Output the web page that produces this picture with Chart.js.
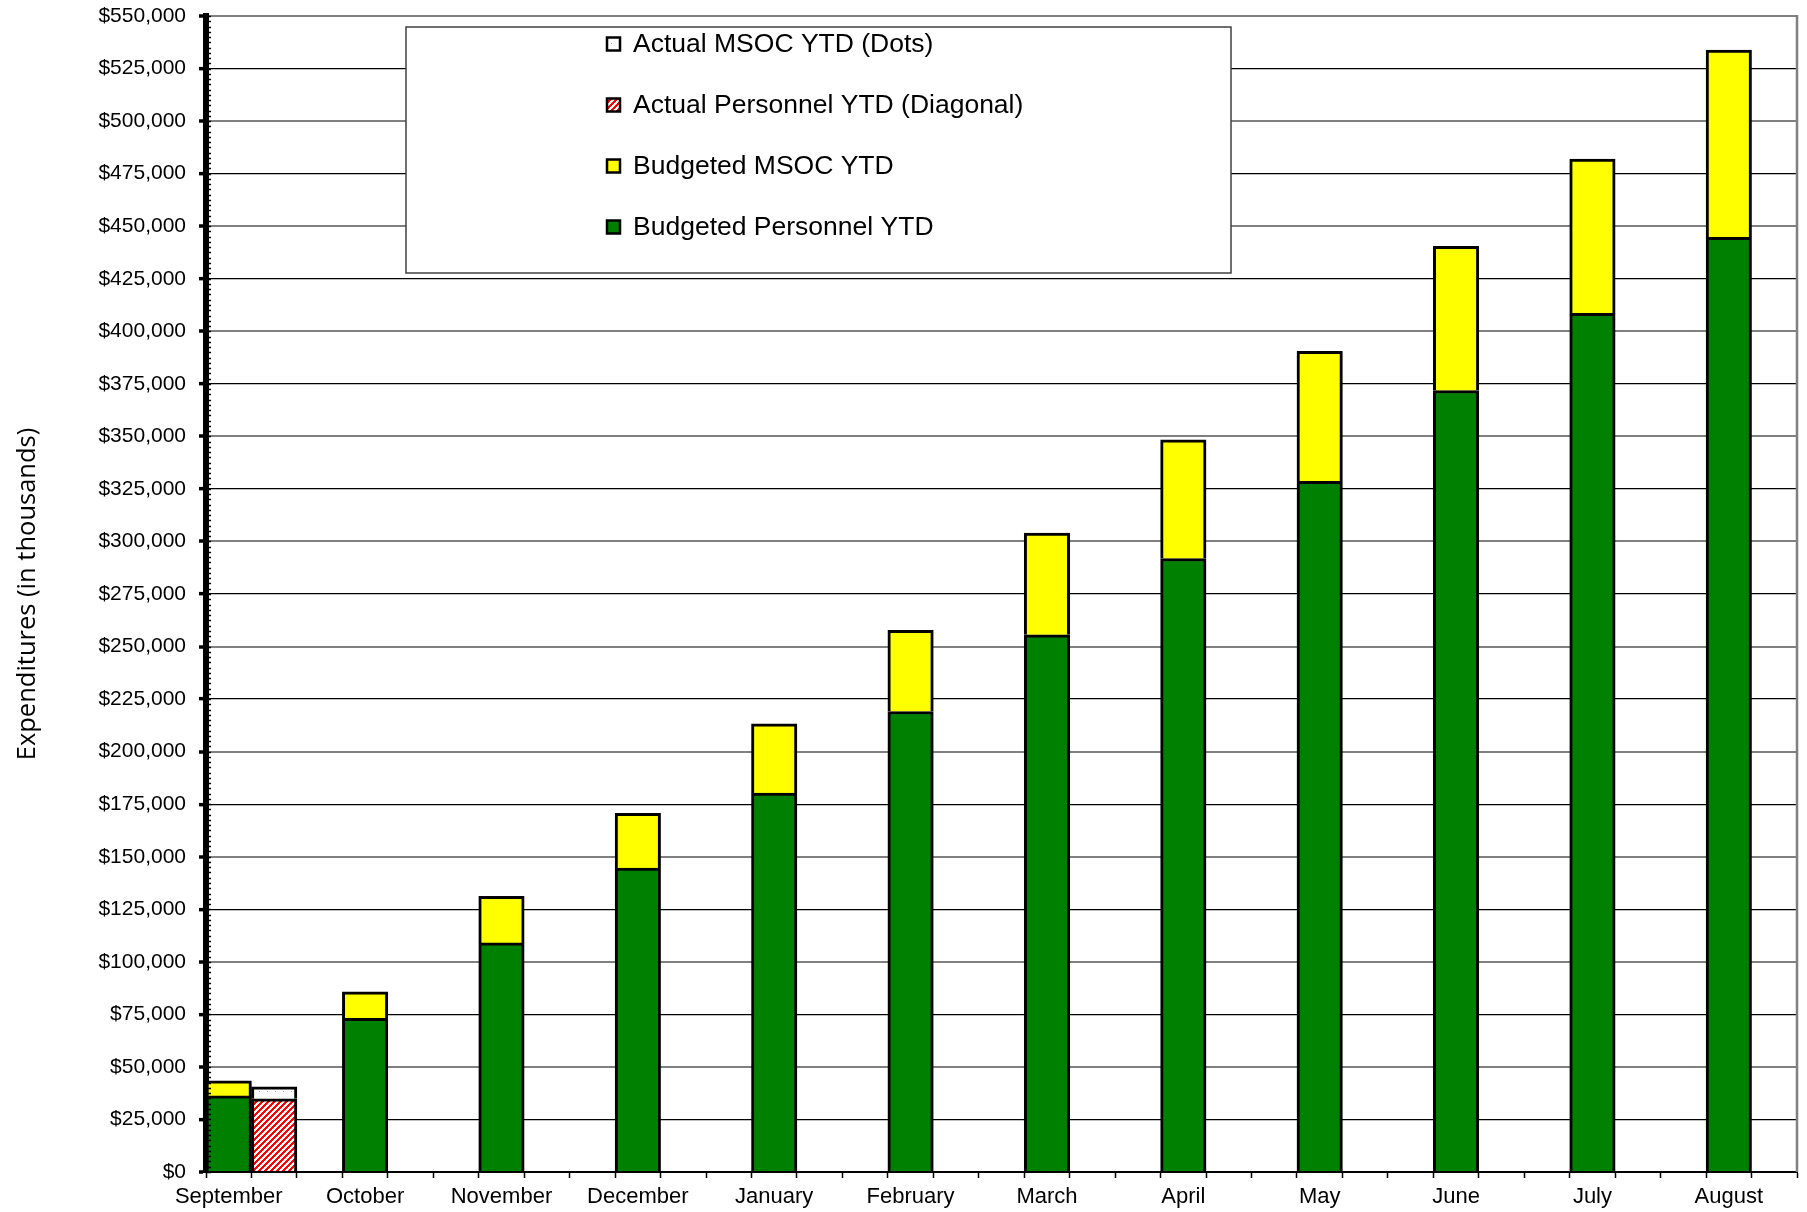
<!DOCTYPE html>
<html>
<head>
<meta charset="utf-8">
<title>Expenditures YTD</title>
<script src="https://cdn.jsdelivr.net/npm/chart.js@4/dist/chart.umd.min.js"></script>
<style>
  html, body { margin: 0; padding: 0; background: #ffffff; }
  canvas { display: block; }
</style>
</head>
<body>
<canvas id="chart" width="1807" height="1212"></canvas>
<script>
// Fiscal-year months, September through August
const months = ['September', 'October', 'November', 'December', 'January', 'February',
                'March', 'April', 'May', 'June', 'July', 'August'];

// Budgeted year-to-date amounts (in thousands)
const budgetedPersonnelYTD = [36200, 73100, 109000, 144600, 180300, 219100,
                              255600, 291900, 328600, 371800, 408500, 444700];
// MSOC portion stacked on top of personnel
const budgetedMSOCYTD = [7200, 12600, 22100, 26000, 32900, 38600,
                         48400, 56400, 61900, 68600, 73400, 89100];

// Actuals reported so far
const actualPersonnelYTD = [34800];
const actualMSOCYTD = [5700];

// Value axis
const yAxisMin = 0;
const yAxisMax = 550000;
const yAxisStep = 25000;
const yMinorStep = 2500;

// Each month takes three slots: budget bar, actual bar, spacer
const slotsPerMonth = 3;
const slotCount = months.length * slotsPerMonth - 1;
const slotLabels = [];
for (let i = 0; i < slotCount; i++) {
  slotLabels.push(i % slotsPerMonth === 0 ? months[i / slotsPerMonth] : '');
}
function toSlots(values, offset) {
  const out = new Array(slotCount).fill(null);
  values.forEach((v, i) => { out[i * slotsPerMonth + offset] = v; });
  return out;
}

// Fill patterns
function diagonalPattern() {
  const n = 6;
  const c = document.createElement('canvas');
  c.width = n; c.height = n;
  const g = c.getContext('2d');
  const img = g.createImageData(n, n);
  for (let y = 0; y < n; y++) {
    for (let x = 0; x < n; x++) {
      const red = ((x + y) % n) < 3;
      const k = (y * n + x) * 4;
      img.data[k] = 255;
      img.data[k + 1] = red ? 0 : 255;
      img.data[k + 2] = red ? 0 : 255;
      img.data[k + 3] = 255;
    }
  }
  g.putImageData(img, 0, 0);
  return g.createPattern(c, 'repeat');
}
function dotPattern() {
  const c = document.createElement('canvas');
  c.width = 8; c.height = 8;
  const g = c.getContext('2d');
  g.fillStyle = '#ffffff';
  g.fillRect(0, 0, 8, 8);
  g.fillStyle = '#a0a0a0';
  g.fillRect(3, 3, 1, 1);
  return g.createPattern(c, 'repeat');
}
const ctx = document.getElementById('chart').getContext('2d');
const hatchRed = diagonalPattern();
const dotsWhite = dotPattern();

// Legend box drawn inside the plot area
const legendBox = {
  id: 'legendBox',
  afterDraw(chart, args, opts) {
    const { ctx, chartArea } = chart;
    const x = chartArea.left + opts.dx;
    const y = chartArea.top + opts.dy;
    ctx.save();
    ctx.fillStyle = '#ffffff';
    ctx.fillRect(x, y, opts.w, opts.h);
    ctx.strokeStyle = '#404040';
    ctx.lineWidth = 1.5;
    ctx.strokeRect(x, y, opts.w, opts.h);
    const items = chart.data.datasets.slice().reverse();
    ctx.font = opts.font;
    ctx.textBaseline = 'middle';
    ctx.textAlign = 'left';
    items.forEach((ds, i) => {
      const cy = y + opts.firstRow + i * opts.rowGap;
      const mx = x + opts.markerX;
      const s = opts.markerSize;
      ctx.fillStyle = ds.backgroundColor;
      ctx.fillRect(mx, cy - s / 2, s, s);
      ctx.strokeStyle = '#000000';
      ctx.lineWidth = 2.5;
      ctx.strokeRect(mx, cy - s / 2, s, s);
      ctx.fillStyle = '#000000';
      ctx.fillText(ds.label, x + opts.textX, cy + 1);
    });
    ctx.restore();
  }
};

// Plot frame on the right and minor ticks on the value axis
const axisDecor = {
  id: 'axisDecor',
  afterDraw(chart) {
    const { ctx, chartArea, scales } = chart;
    const yScale = scales.y;
    ctx.save();
    ctx.strokeStyle = '#808080';
    ctx.lineWidth = 2.5;
    ctx.beginPath();
    ctx.moveTo(chartArea.right, chartArea.top - 1);
    ctx.lineTo(chartArea.right, chartArea.bottom);
    ctx.stroke();
    ctx.strokeStyle = '#000000';
    ctx.lineWidth = 1.5;
    ctx.beginPath();
    for (let v = yAxisMin; v <= yAxisMax; v += yMinorStep) {
      const py = Math.round(yScale.getPixelForValue(v)) + 0.5;
      ctx.moveTo(chartArea.left, py);
      ctx.lineTo(chartArea.left + 5, py);
    }
    ctx.stroke();
    ctx.restore();
  }
};

const barBase = {
  borderColor: '#000000',
  borderWidth: 3,
  barPercentage: 1.0,
  categoryPercentage: 1.0,
  stack: 'ytd'
};

new Chart(ctx, {
  type: 'bar',
  data: {
    labels: slotLabels,
    datasets: [
      Object.assign({}, barBase, {
        label: 'Budgeted Personnel YTD',
        data: toSlots(budgetedPersonnelYTD, 0),
        backgroundColor: '#008000'
      }),
      Object.assign({}, barBase, {
        label: 'Budgeted MSOC YTD',
        data: toSlots(budgetedMSOCYTD, 0),
        backgroundColor: '#ffff00'
      }),
      Object.assign({}, barBase, {
        label: 'Actual Personnel YTD (Diagonal)',
        data: toSlots(actualPersonnelYTD, 1),
        backgroundColor: hatchRed
      }),
      Object.assign({}, barBase, {
        label: 'Actual MSOC YTD (Dots)',
        data: toSlots(actualMSOCYTD, 1),
        backgroundColor: dotsWhite
      })
    ]
  },
  options: {
    responsive: false,
    animation: false,
    devicePixelRatio: 1,
    layout: { padding: { left: 0, top: 16, right: 10, bottom: 0 } },
    plugins: {
      legend: { display: false },
      tooltip: { enabled: false },
      legendBox: {
        dx: 200, dy: 11, w: 825, h: 246,
        markerX: 201, markerSize: 13, textX: 227,
        firstRow: 17, rowGap: 61,
        font: '26.5px "Liberation Sans", Arial, sans-serif'
      }
    },
    scales: {
      x: {
        stacked: true,
        offset: true,
        afterFit(scale) {
          scale.height = 40;
          scale.paddingLeft = 0;
          scale.paddingRight = 0;
        },
        grid: {
          display: true,
          offset: true,
          drawOnChartArea: false,
          drawTicks: true,
          tickLength: 6,
          tickColor: '#000000',
          tickWidth: 1.5
        },
        border: { display: true, color: '#000000', width: 2 },
        ticks: {
          autoSkip: false,
          maxRotation: 0,
          minRotation: 0,
          padding: 6,
          color: '#000000',
          font: { family: '"Liberation Sans", Arial, sans-serif', size: 22 }
        }
      },
      y: {
        stacked: true,
        min: yAxisMin,
        max: yAxisMax,
        afterFit(scale) {
          scale.width = 206;
          scale.paddingTop = 0;
          scale.paddingBottom = 0;
        },
        title: {
          display: true,
          text: 'Expenditures (in thousands)',
          color: '#000000',
          font: { family: '"Open Sans", sans-serif', size: 25.5 },
          padding: { top: 12, bottom: 0 }
        },
        grid: {
          color: (c) => (c.tick && c.tick.value % 50000 === 0) ? '#808080' : '#000000',
          lineWidth: (c) => (c.tick && c.tick.value % 50000 === 0) ? 2 : 1.3,
          drawTicks: true,
          tickLength: 7,
          tickColor: '#000000',
          tickWidth: 3.5
        },
        border: { display: true, color: '#000000', width: 6 },
        ticks: {
          stepSize: yAxisStep,
          padding: 13,
          color: '#000000',
          font: { family: '"Liberation Sans", Arial, sans-serif', size: 21 },
          callback: (v) => '$' + Number(v).toLocaleString('en-US')
        }
      }
    }
  },
  plugins: [legendBox, axisDecor]
});
</script>
</body>
</html>
